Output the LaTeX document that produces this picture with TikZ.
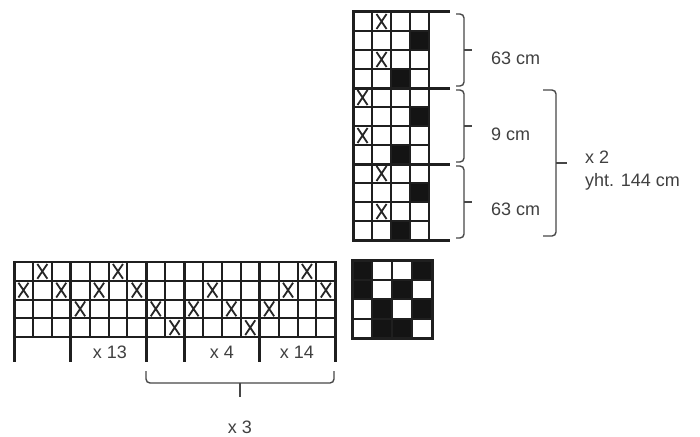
\documentclass[tikz,border=0pt]{standalone}
\usepackage{fontspec}
\setmainfont{Liberation Sans}
\begin{document}
\begin{tikzpicture}[x=1pt,y=-1pt,
  gridline/.style={line width=2pt, draw=black!88},
  sepline/.style={line width=3pt, draw=black!88},
  bracel/.style={line width=1.4pt, draw=black!72, rounded corners=4pt},
  lbl/.style={text=black!75, font=\fontsize{18}{20}\selectfont, inner sep=0pt},
  xmark/.style={line width=1.8pt, draw=black!85},
  blackcell/.style={fill=black!92}]
\useasboundingbox (0,0) rectangle (700,436);
\fill[white] (0,0) rectangle (700,436);

% ---------- vertical chart ----------
\foreach \r/\c in {2/4,4/3,6/4,8/3,10/4,12/3}
  \fill[blackcell] ({353+(\c-1)*19},{12+(\r-1)*19}) rectangle ++(19,19);
\foreach \r/\c in {1/2,3/2,5/1,7/1,9/2,11/2}
  \draw[xmark] ({353+(\c-0.5)*19-5},{12+(\r-1)*19+2}) -- ++(10,15) ++(-10,0) -- ++(10,-15);
\foreach \i in {0,...,12}
  \draw[gridline] (353,{12+\i*19}) -- (429,{12+\i*19});
\foreach \j in {1,...,4}
  \draw[gridline] ({353+\j*19},12) -- ({353+\j*19},240);
\draw[sepline] (353,11) -- (353,241);
\foreach \yy in {12,88,164,240}
  \draw[sepline] (352,\yy) -- (450,\yy);

% small braces
\foreach \yt/\yb in {12/88,88/164,164/240}{
  \draw[bracel] (456,{\yt+2}) -- (464,{\yt+2}) -- (464,{\yb-2}) -- (456,{\yb-2});
  \draw[bracel] (464,{(\yt+\yb)/2}) -- (472,{(\yt+\yb)/2});
}
% big brace
\draw[bracel] (543,90) -- (556,90) -- (556,236) -- (543,236);
\draw[bracel] (556,163) -- (567,163);

\node[lbl, anchor=base west] (l1) at (491,64) {63 cm};
\node[lbl, anchor=base west] (l2) at (491,140) {9 cm};
\node[lbl, anchor=base west] (l3) at (491,215) {63 cm};
\node[lbl, anchor=base west] (l4) at (585,163) {x 2};
\node[lbl, anchor=base west] (l5) at (585,186) {yht. 144 cm};

% ---------- small square ----------
\foreach \r/\c in {1/1,1/4,2/1,2/3,3/2,3/4,4/2,4/3}
  \fill[blackcell] ({352+(\c-1)*20},{260+(\r-1)*19.5}) rectangle ++(20,19.5);
\foreach \i in {1,...,3}{
  \draw[gridline] (352,{260+\i*19.5}) -- (432,{260+\i*19.5});
  \draw[gridline] ({352+\i*20},260) -- ({352+\i*20},338);
}
\draw[sepline] (352,260) rectangle (432,338);

% ---------- horizontal chart ----------
\foreach \r/\c in {1/2,1/6,1/16,2/1,2/3,2/5,2/7,2/11,2/15,2/17,3/4,3/8,3/10,3/12,3/14,4/9,4/13}
  \draw[xmark] ({14+(\c-0.5)*18.9-5},{262+(\r-1)*18.75+2}) -- ++(10,14.75) ++(-10,0) -- ++(10,-14.75);
\foreach \i in {0,...,4}
  \draw[gridline] (14,{262+\i*18.75}) -- (335.3,{262+\i*18.75});
\foreach \j in {1,2,4,5,6,8,10,11,12,14,15,16}
  \draw[gridline] ({14+\j*18.9},262) -- ({14+\j*18.9},337);
\foreach \j in {0,3,7,9,13,17}
  \draw[sepline] ({14+\j*18.9},261) -- ({14+\j*18.9},362);

\node[lbl, anchor=base] (b1) at (110,358) {x 13};
\node[lbl, anchor=base] (b2) at (222,358) {x 4};
\node[lbl, anchor=base] (b3) at (297,358) {x 14};

% bottom brace
\draw[bracel] (146,371) -- (146,383) -- (334,383) -- (334,371);
\draw[bracel] (240,383) -- (240,397);
\node[lbl, anchor=base] (b4) at (240,433) {x 3};
\end{tikzpicture}
\end{document}
